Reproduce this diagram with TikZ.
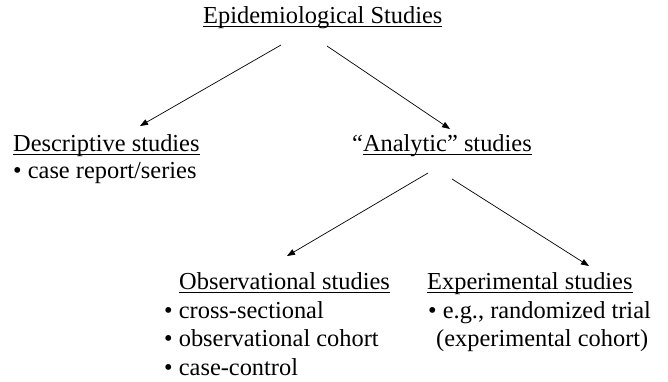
\documentclass[tikz,border=0pt]{standalone}
\usepackage{fontspec}
\setmainfont{Liberation Serif}
\usetikzlibrary{arrows.meta}
\newcommand\ulx[1]{\setbox0\hbox{#1}\rlap{\rule[-4pt]{\wd0}{1pt}}\box0}
\begin{document}
\begin{tikzpicture}[x=1pt,y=-1pt]
\tikzset{lbl/.style={inner sep=0pt,anchor=base west,font=\fontsize{24.4}{26}\selectfont},arr/.style={-{Triangle[length=8pt,width=6pt]},line width=0.7pt}}
\useasboundingbox (0,0) rectangle (668,381);
\node[lbl] (epi) at (203,23) {\ulx{Epidemiological Studies}};
\node[lbl] (desc) at (13,151) {\ulx{Descriptive studies}};
\node[lbl] (descA) at (13,178) {\textbullet\ case report/series};
\node[lbl] (anal) at (352,151) {\textquotedblleft\ulx{Analytic\textquotedblright\ studies}};
\node[lbl] (obs) at (179,289) {\ulx{Observational studies}};
\node[lbl] (obsA) at (164,318) {\textbullet\ cross-sectional};
\node[lbl] (obsB) at (164,346) {\textbullet\ observational cohort};
\node[lbl] (obsC) at (164,375) {\textbullet\ case-control};
\node[lbl] (exp) at (427,289) {\ulx{Experimental studies}};
\node[lbl] (expA) at (428,318) {\textbullet\ e.g., randomized trial};
\node[lbl] (expB) at (436,346) {(experimental cohort)};
% arrow end points
\coordinate (epiL) at (281,45); \coordinate (descT) at (140,126);
\coordinate (epiR) at (327,46); \coordinate (analT) at (450,129);
\coordinate (analL) at (428,173); \coordinate (obsT) at (287,256);
\coordinate (analR) at (452,179); \coordinate (expT) at (589,266);
\draw[arr] (epiL) -- (descT);
\draw[arr] (epiR) -- (analT);
\draw[arr] (analL) -- (obsT);
\draw[arr] (analR) -- (expT);
\end{tikzpicture}
\end{document}
